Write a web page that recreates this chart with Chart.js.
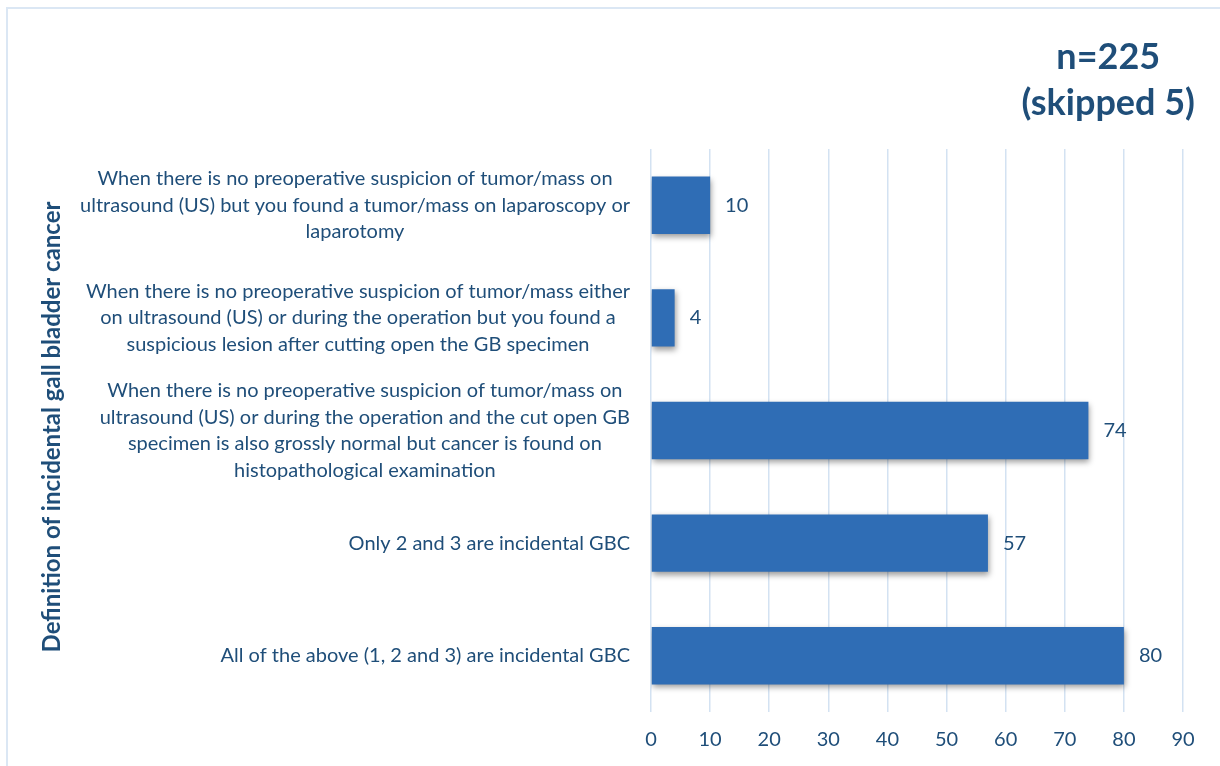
<!DOCTYPE html>
<html>
<head>
<meta charset="utf-8">
<script src="https://cdn.jsdelivr.net/npm/chart.js@4.4.1/dist/chart.umd.min.js"></script>
<style>
  html, body { margin: 0; padding: 0; background: #ffffff; }
  #wrap { width: 1220px; height: 766px; position: relative; }
</style>
</head>
<body>
<div id="wrap"><canvas id="gbcChart"></canvas></div>
<script>
// ===== datos del gráfico =====
const categories = [
    ['When there is no preoperative suspicion of tumor/mass on',
     'ultrasound (US) but you found a tumor/mass on laparoscopy or',
     'laparotomy'],
    ['When there is no preoperative suspicion of tumor/mass either',
     'on ultrasound (US) or during the operation but you found a',
     'suspicious lesion after cutting open the GB specimen'],
    ['When there is no preoperative suspicion of tumor/mass on',
     'ultrasound (US) or during the operation and the cut open GB',
     'specimen is also grossly normal but cancer is found on',
     'histopathological examination'],
    ['Only 2 and 3 are incidental GBC'],
    ['All of the above (1, 2 and 3) are incidental GBC']
];
const responses = [10, 4, 74, 57, 80];
const xTicks = [0, 10, 20, 30, 40, 50, 60, 70, 80, 90];
const titleLines = ['n=225', '(skipped 5)'];
const axisTitle = 'Definition of incidental gall bladder cancer';

const textColor = '#1f4e79';
const gridColor = '#d3e2f2';
const fontFamily = 'Lato, "Noto Sans", sans-serif';

// gradiente vertical de cada barra
function barGradient(context) {
    const el = context.element;
    const { ctx } = context.chart;
    if (!el || el.y === undefined) return '#2f6db5';
    const h = el.height || 57;
    const g = ctx.createLinearGradient(0, el.y - h / 2, 0, el.y + h / 2);
    g.addColorStop(0, '#4580c8');
    g.addColorStop(0.45, '#2f6db6');
    g.addColorStop(1, '#2a5a9a');
    return g;
}

// marco, etiquetas de categorías, títulos y valores
const decorPlugin = {
    id: 'decor',
    beforeDraw(chart) {
        const { ctx } = chart;
        ctx.save();
        ctx.strokeStyle = '#dbe7f4';
        ctx.lineWidth = 2;
        ctx.beginPath();
        ctx.moveTo(7, 766);
        ctx.lineTo(7, 8);
        ctx.lineTo(1220, 8);
        ctx.stroke();
        ctx.restore();
    },
    beforeDatasetDraw(chart) {
        const { ctx } = chart;
        ctx.save();
        ctx.shadowColor = 'rgba(0,0,0,0.4)';
        ctx.shadowBlur = 6;
        ctx.shadowOffsetX = 1;
        ctx.shadowOffsetY = 3;
    },
    afterDatasetDraw(chart) {
        chart.ctx.restore();
    },
    afterDraw(chart) {
        const { ctx, chartArea } = chart;
        const yScale = chart.scales.y;
        const meta = chart.getDatasetMeta(0);
        ctx.save();
        ctx.fillStyle = textColor;

        // etiquetas de categoría: bloque alineado a la derecha, líneas centradas
        ctx.font = '20px ' + fontFamily;
        ctx.textBaseline = 'middle';
        ctx.textAlign = 'center';
        const lineH = 26.5;
        const rightEdge = chartArea.left - 21;
        categories.forEach((lines, i) => {
            const yc = yScale.getPixelForValue(i);
            const w = Math.max(...lines.map(l => ctx.measureText(l).width));
            const cx = rightEdge - w / 2;
            const y0 = yc - (lines.length - 1) * lineH / 2;
            lines.forEach((l, j) => ctx.fillText(l, cx, y0 + j * lineH));
        });

        // valores al final de cada barra
        ctx.textAlign = 'left';
        meta.data.forEach((bar, i) => {
            ctx.fillText(String(responses[i]), bar.x + 15, bar.y);
        });

        // título del eje vertical
        ctx.save();
        ctx.font = 'bold 24px ' + fontFamily;
        ctx.translate(52, 427);
        ctx.rotate(-Math.PI / 2);
        ctx.textAlign = 'center';
        ctx.fillText(axisTitle, 0, 0);
        ctx.restore();

        // título n=225
        ctx.font = 'bold 36px ' + fontFamily;
        ctx.textAlign = 'center';
        const tw = Math.max(...titleLines.map(l => ctx.measureText(l).width));
        const tx = 1195 - tw / 2;
        titleLines.forEach((l, j) => ctx.fillText(l, tx, 57 + j * 46));
        ctx.restore();
    }
};

const canvas = document.getElementById('gbcChart');
const chart = new Chart(canvas.getContext('2d'), {
    type: 'bar',
    data: {
        labels: categories.map(c => c.join(' ')),
        datasets: [{
            label: 'Responses',
            data: responses,
            backgroundColor: barGradient,
            borderWidth: 0,
            barPercentage: 0.51,
            categoryPercentage: 1
        }]
    },
    options: {
        indexAxis: 'y',
        responsive: true,
        maintainAspectRatio: false,
        animation: false,
        layout: {
            padding: { left: 643, top: 149, right: 37, bottom: -2 }
        },
        scales: {
            x: {
                min: 0,
                max: 90,
                afterBuildTicks(scale) {
                    scale.ticks = xTicks.map(v => ({ value: v }));
                },
                grid: { color: gridColor, lineWidth: 1.5, drawTicks: false },
                border: { display: false },
                ticks: {
                    color: textColor,
                    font: { family: fontFamily, size: 20 },
                    padding: 16
                }
            },
            y: {
                grid: { display: false },
                border: { display: false },
                ticks: { display: false }
            }
        },
        plugins: {
            legend: { display: false },
            tooltip: { enabled: false }
        }
    },
    plugins: [decorPlugin]
});
</script>
</body>
</html>
